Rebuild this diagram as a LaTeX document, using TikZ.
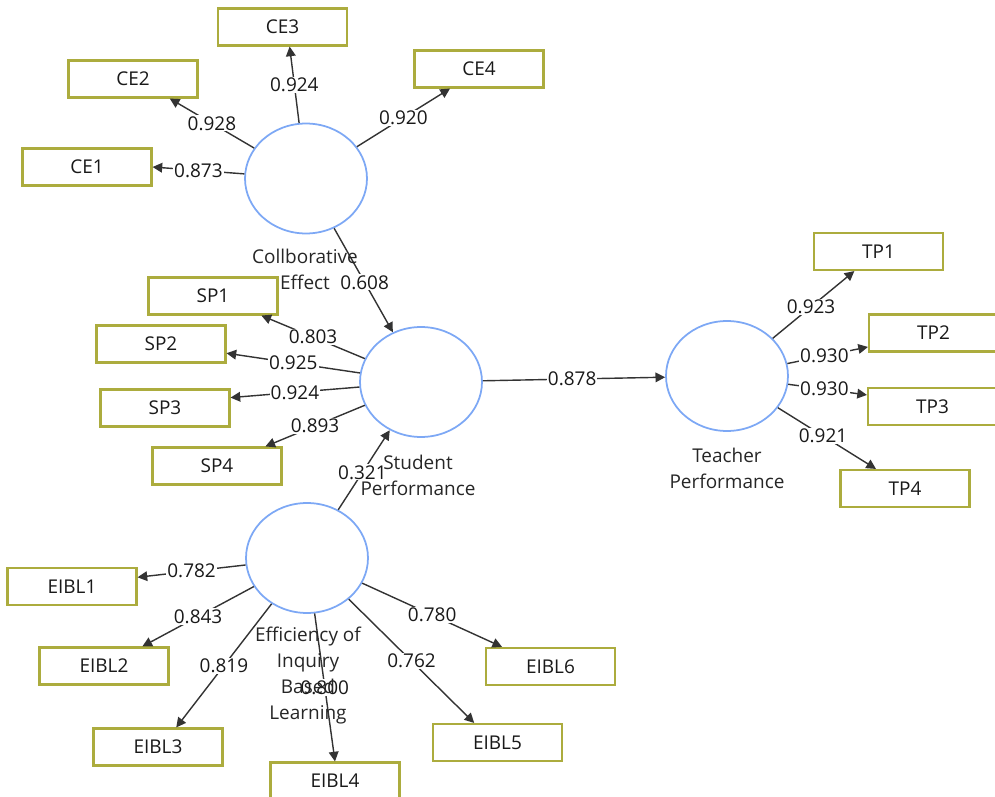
\documentclass[tikz,border=0pt]{standalone}
\usepackage{fontspec}
\setmainfont{Open Sans}
\usepackage{tikz}
\usetikzlibrary{shapes.geometric,arrows.meta}
\definecolor{boxline}{RGB}{172,172,62}
\definecolor{latline}{RGB}{125,168,245}
\tikzstyle{item} = [rectangle, draw=boxline, line width=1.2pt, fill=white, minimum height=0.74cm, minimum width=2.58cm, text=black!90, text centered]
\tikzstyle{latent} = [ellipse, draw=latline, line width=1pt, fill=white, minimum width=2.44cm, minimum height=2.2cm, inner sep=0pt]
\tikzstyle{load} = [draw=black!80, line width=0.8pt, -{Triangle[length=5.5pt,width=5.5pt]}]
\tikzstyle{coef} = [fill=white, inner sep=0.6pt, text=black!90, midway]
\tikzstyle{latname} = [align=center, text=black!85, font=\fontsize{10.8}{14.8}\selectfont]

\begin{document}
\begin{tikzpicture}[x=0.02cm, y=-0.02cm, font=\fontsize{10.8}{13}\selectfont]

            \useasboundingbox (0,0) rectangle (995,797);

            %% latent variables
            \node (CE) [latent] at (306,178.5) {};
            \node (SP) [latent] at (421,382) {};
            \node (TP) [latent] at (727,376) {};
            \node (EIBL) [latent] at (307,558) {};

            %% indicators
            \node (CE1) [item] at (87,167) {CE1};
            \node (CE2) [item] at (133,79) {CE2};
            \node (CE3) [item] at (282.5,27) {CE3};
            \node (CE4) [item] at (479,69) {CE4};

            \node (SP1) [item] at (213,296) {SP1};
            \node (SP2) [item] at (161,344) {SP2};
            \node (SP3) [item] at (165,408) {SP3};
            \node (SP4) [item] at (217,466) {SP4};

            \node (TP1) [item] at (878.5,251.5) {TP1};
            \node (TP2) [item] at (933.5,333) {TP2};
            \node (TP3) [item] at (932.5,406.5) {TP3};
            \node (TP4) [item] at (905,488.5) {TP4};

            \node (EIBL1) [item] at (72,586.5) {EIBL1};
            \node (EIBL2) [item] at (104,666) {EIBL2};
            \node (EIBL3) [item] at (158,747) {EIBL3};
            \node (EIBL4) [item] at (335,781) {EIBL4};
            \node (EIBL5) [item] at (497.5,742.5) {EIBL5};
            \node (EIBL6) [item] at (550.5,666.5) {EIBL6};

            %% outer loadings
            \draw [load] (CE) -- node[coef]{0.873} (CE1.east);
            \draw [load] (CE) -- node[coef]{0.928} (CE2.-28);
            \draw [load] (CE) -- node[coef]{0.924} (CE3.-70);
            \draw [load] (CE) -- node[coef]{0.920} (CE4.-146);

            \draw [load] (SP) -- node[coef]{0.803} (SP1.-22);
            \draw [load] (SP) -- node[coef]{0.925} (SP2.-8);
            \draw [load] (SP) -- node[coef]{0.924} (SP3.9);
            \draw [load] (SP) -- node[coef]{0.893} (SP4.22);

            \draw [load] (TP) -- node[coef, pos=0.47]{0.923} (TP1.-141);
            \draw [load] (TP) -- node[coef, pos=0.46]{0.930} (TP2.-168);
            \draw [load] (TP) -- node[coef, pos=0.46]{0.930} (TP3.170);
            \draw [load] (TP) -- node[coef, pos=0.46]{0.921} (TP4.146);

            \draw [load] (EIBL) -- node[coef]{0.782} (EIBL1.8);
            \draw [load] (EIBL) -- node[coef]{0.843} (EIBL2.27);
            \draw [load] (EIBL) -- node[coef]{0.819} (EIBL3.47);
            \draw [load] (EIBL) -- node[coef]{0.800} (EIBL4.north);
            \draw [load] (EIBL) -- node[coef]{0.762} (EIBL5.140);
            \draw [load] (EIBL) -- node[coef]{0.780} (EIBL6.158);

            %% paths
            \draw [load] (CE) -- node[coef, pos=0.52]{0.608} (SP);
            \draw [load] (EIBL) -- node[coef, pos=0.47]{0.321} (SP);
            \draw [load] (SP) -- node[coef, pos=0.49]{0.878} (TP);

            %% names
            \node (CEname) [latname] at (305,269.5) {Collborative\\Effect};
            \node (SPname) [latname] at (418,475) {Student\\Performance};
            \node (TPname) [latname] at (727,468) {Teacher\\Performance};
            \node (EIBLname) [latname] at (308,676) {Efficiency of\\Inquiry\\Based\\Learning};

        \end{tikzpicture}
\end{document}
